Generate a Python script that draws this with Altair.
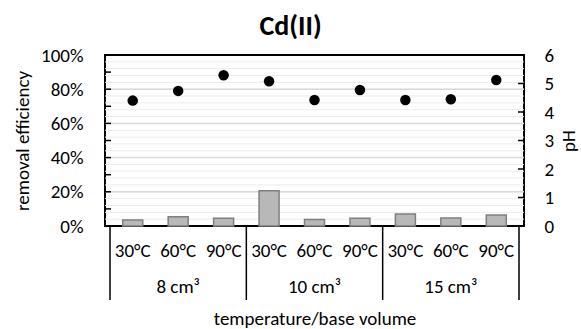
import altair as alt
import numpy as np
import pandas as pd

# Removal efficiency of Cd(II) and final pH per temperature / base volume
temperatures = ["30°C", "60°C", "90°C"] * 3
volumes = ["8 cm³"] * 3 + ["10 cm³"] * 3 + ["15 cm³"] * 3
efficiency = [0.035, 0.054, 0.045, 0.206, 0.038, 0.046, 0.070, 0.047, 0.064]
ph_values = [4.40, 4.74, 5.29, 5.08, 4.42, 4.77, 4.42, 4.45, 5.12]
volume_groups = ["8 cm³", "10 cm³", "15 cm³"]

FONT = "Carlito, Lato, sans-serif"
W, H = 419, 171

df = pd.DataFrame({
    "idx": np.arange(len(temperatures)),
    "temp": temperatures,
    "vol": volumes,
    "eff": efficiency,
    "ph": ph_values,
})
groups = pd.DataFrame({"idx": [1, 4, 7], "vol": volume_groups})
separators = pd.DataFrame({"idx": [-0.5, 2.5, 5.5, 8.5]})
minor_grid = pd.DataFrame({"v": np.round(np.arange(0.04, 1.0, 0.04), 2)})
major_grid = pd.DataFrame({"v": [0.2, 0.4, 0.6, 0.8]})
left_ticks = pd.DataFrame({"v": np.round(np.arange(0.1, 1.0, 0.1), 1)})
right_ticks = pd.DataFrame({"v": [1, 2, 3, 4, 5]})

eff_scale = alt.Scale(domain=[0, 1])
ph_scale = alt.Scale(domain=[0, 6])

x_enc = alt.X(
    "idx:Q",
    scale=alt.Scale(domain=[-0.5, 8.5], nice=False, zero=False),
    axis=alt.Axis(
        labels=False, ticks=False, domain=False, grid=False,
        title="temperature/base volume", titleFont=FONT, titleFontSize=19,
        titleFontWeight="normal", titleColor="black", titlePadding=83,
    ),
)

minor = alt.Chart(minor_grid).mark_rule(color="#ebebeb", strokeWidth=1).encode(
    y=alt.Y("v:Q", scale=eff_scale, axis=None)
)
major = alt.Chart(major_grid).mark_rule(color="#d9d9d9", strokeWidth=1.5).encode(
    y=alt.Y("v:Q", scale=eff_scale, axis=None)
)

bars = alt.Chart(df).mark_bar(
    size=20, color="#b8b8b8", stroke="#7f7f7f", strokeWidth=1.5
).encode(
    x=x_enc,
    y=alt.Y(
        "eff:Q", scale=eff_scale,
        axis=alt.Axis(
            values=[0, 0.2, 0.4, 0.6, 0.8, 1.0], format=".0%", grid=False,
            ticks=False, domain=False, labelPadding=22, labelFont=FONT,
            labelFontSize=19, labelColor="black",
            title="removal efficiency", titleFont=FONT, titleFontSize=19,
            titleFontWeight="normal", titleColor="black", titlePadding=8,
        ),
    ),
)

lticks = alt.Chart(left_ticks).mark_rule(color="black", strokeWidth=1.5).encode(
    y=alt.Y("v:Q", scale=eff_scale, axis=None),
    x=alt.value(0), x2=alt.value(6),
)

points = alt.Chart(df).mark_circle(size=110, color="black", opacity=1).encode(
    x=x_enc,
    y=alt.Y(
        "ph:Q", scale=ph_scale,
        axis=alt.Axis(
            orient="right", values=[0, 1, 2, 3, 4, 5, 6], grid=False,
            ticks=False, domain=False, labelPadding=20, labelFont=FONT,
            labelFontSize=19, labelColor="black",
            title="pH", titleFont=FONT, titleFontSize=19, titleAngle=270,
            titleBaseline="top", titleFontWeight="normal", titleColor="black",
            titlePadding=6,
        ),
    ),
)

rticks = alt.Chart(right_ticks).mark_rule(color="black", strokeWidth=1.5).encode(
    y=alt.Y("v:Q", scale=ph_scale, axis=None),
    x=alt.value(W - 6), x2=alt.value(W),
)

seps = alt.Chart(separators).mark_rule(color="black", strokeWidth=1.5).encode(
    x=x_enc, y=alt.value(H), y2=alt.value(H + 74)
)

temp_text = alt.Chart(df).mark_text(
    font=FONT, fontSize=19, color="black", baseline="middle"
).encode(x=x_enc, y=alt.value(H + 25), text="temp:N")

vol_text = alt.Chart(groups).mark_text(
    font=FONT, fontSize=19, color="black", baseline="middle"
).encode(x=x_enc, y=alt.value(H + 61), text="vol:N")

chart = (
    alt.layer(minor, major, bars, lticks, points, rticks, seps, temp_text, vol_text)
    .resolve_scale(y="independent")
    .properties(
        width=W, height=H,
        autosize=alt.AutoSizeParams(type="none"),
        padding={"left": 105, "top": 55, "right": 57, "bottom": 103},
        title=alt.TitleParams(
            "Cd(II)", font=FONT, fontSize=28, fontWeight="bold", color="black",
            anchor="middle", dx=-24, offset=5,
        ),
    )
    .configure_view(stroke="black", strokeWidth=2)
)

chart.save("out.html", embed_options={"renderer": "svg", "actions": False})
